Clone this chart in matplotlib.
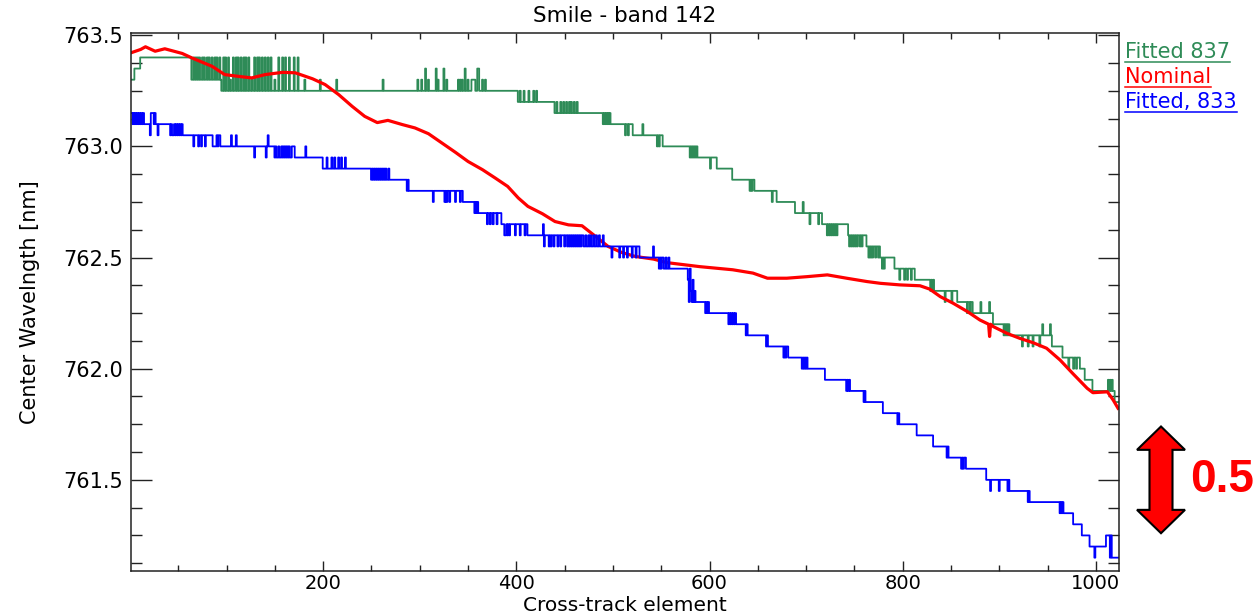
import numpy as np
import matplotlib
matplotlib.use('Agg')
import matplotlib.pyplot as plt
from matplotlib.ticker import MultipleLocator, FormatStrFormatter
from matplotlib.patches import Polygon
from matplotlib.lines import Line2D
from matplotlib.transforms import blended_transform_factory

# cross-track pixels
pixel = np.arange(1, 1025)

# Fitted 837: step levels (start pixel, wavelength)
green_step_x = [1, 5, 11, 64, 95, 402, 440, 490, 521, 552, 580, 608, 624, 647, 670,
                689, 717, 744, 763, 777, 792, 813, 833, 857, 873, 894, 911, 955,
                966, 984, 989, 997, 1020]
green_step_y = [763.30, 763.35, 763.40, 763.30, 763.25, 763.20, 763.15, 763.10, 763.05,
                763.00, 762.95, 762.90, 762.85, 762.80, 762.75, 762.70, 762.65, 762.60,
                762.55, 762.50, 762.45, 762.40, 762.35, 762.30, 762.25, 762.20, 762.15,
                762.10, 762.05, 762.00, 761.95, 761.90, 761.85]
# single-pixel jumps (value, pixels)
green_spikes = [
    (763.40, [66, 68, 70, 72, 75, 77, 80, 82, 85, 88, 90, 93, 97, 99, 102, 107, 110, 112,
              115, 118, 120, 123, 129, 132, 134, 137, 140, 143, 146, 154, 158, 161, 165,
              170, 174]),
    (763.35, [306, 317, 325, 347, 360, 361]),
    (763.30, [104, 126, 150, 181, 197, 214, 262, 298, 302, 309, 319, 328, 340, 342, 344,
              350, 354, 355, 356, 357, 365, 368]),
    (763.25, [404, 408, 413, 418, 421]),
    (763.20, [442, 446, 449, 452, 455, 457, 460, 463]),
    (763.15, [491, 493, 495, 497]),
    (763.10, [531]),
    (763.05, [513, 516]),
    (763.00, [546, 548, 581, 583, 585, 587]),
    (762.90, [601]),
    (762.80, [642, 644]),
    (762.75, [665, 697]),
    (762.65, [704, 713]),
    (762.60, [722, 724, 726, 728, 730, 732]),
    (762.55, [745, 747, 749, 751, 753, 756, 758]),
    (762.50, [765, 767, 769, 772, 775]),
    (762.45, [779, 781]),
    (762.40, [797, 802, 805, 809]),
    (762.35, [829, 831]),
    (762.30, [844, 851, 881, 890]),
    (762.25, [867, 870]),
    (762.20, [945, 953]),
    (762.15, [905, 907, 909]),
    (762.10, [924, 930, 935, 942]),
    (762.00, [972, 977, 980]),
    (761.95, [1013, 1015, 1017]),
]

# Fitted, 833
blue_step_x = [1, 55, 95, 172, 200, 260, 290, 345, 361, 385, 412, 470, 528, 553, 587,
               600, 628, 640, 661, 682, 702, 720, 746, 763, 780, 797, 815, 832, 848,
               866, 887, 911, 932, 967, 977, 986, 994, 1011, 1018]
blue_step_y = [763.10, 763.05, 763.00, 762.95, 762.90, 762.85, 762.80, 762.75, 762.70,
               762.65, 762.60, 762.55, 762.50, 762.45, 762.30, 762.25, 762.20, 762.15,
               762.10, 762.05, 762.00, 761.95, 761.90, 761.85, 761.80, 761.75, 761.70,
               761.65, 761.60, 761.55, 761.50, 761.45, 761.40, 761.35, 761.30, 761.25,
               761.20, 761.25, 761.15]
blue_spikes = [
    (763.15, [1, 2, 4, 6, 8, 10, 12, 14, 22, 23, 24, 26]),
    (763.05, [21, 29, 42, 44, 45, 47, 49, 51, 53, 105, 110, 143]),
    (763.00, [66, 71, 74, 78, 86, 87, 88, 89, 91, 94, 182]),
    (762.95, [129, 141, 150, 152, 153, 155, 156, 158, 160, 162, 164, 166, 167, 171,
              204, 209, 212, 216, 219, 223]),
    (762.90, [261, 263, 265, 268]),
    (762.85, [250, 252, 254, 256, 258]),
    (762.80, [287, 289]),
    (762.75, [314, 326, 328, 331, 337, 342]),
    (762.70, [357, 359]),
    (762.65, [370, 373, 376, 380, 428]),
    (762.60, [388, 389, 391, 393, 399, 404, 409, 472, 475, 477, 480, 483, 486, 490]),
    (762.55, [429, 434, 436, 439, 443, 446, 450, 453, 455, 457, 459, 461, 463, 465, 467,
              542]),
    (762.50, [499, 507, 511, 515, 520, 524, 555, 558]),
    (762.45, [548, 550]),
    (762.40, [578, 583]),
    (762.35, [581, 585]),
    (762.30, [579, 582, 584, 586]),
    (762.25, [596, 598]),
    (762.20, [620, 622, 624, 626]),
    (762.15, [638]),
    (762.10, [659]),
    (762.05, [677, 679]),
    (762.00, [696, 698, 700]),
    (761.90, [742, 744]),
    (761.85, [760, 762]),
    (761.75, [795]),
    (761.60, [846]),
    (761.55, [861, 863]),
    (761.45, [891, 900, 909]),
    (761.40, [930]),
    (761.35, [963, 965]),
    (761.15, [999, 1015, 1017]),
]

# Nominal: points
red_x = [1, 11, 16, 26, 36, 54, 64, 85, 98, 112, 126, 140, 158, 171, 189, 202, 216,
         230, 243, 256, 267, 282, 295, 309, 323, 337, 350, 365, 378, 391, 402, 412,
         427, 440, 454, 468, 482, 495, 509, 523, 542, 556, 590, 624, 645, 660, 680,
         701, 722, 742, 763, 777, 797, 818, 828, 839, 852, 867, 880, 889, 890, 891,
         894, 908, 921, 935, 949, 963, 976, 991, 997, 1012, 1018, 1023]
red_y = [763.421, 763.436, 763.448, 763.428, 763.439, 763.418, 763.398, 763.360, 763.323,
         763.315, 763.308, 763.323, 763.333, 763.331, 763.304, 763.278, 763.233, 763.180,
         763.135, 763.107, 763.117, 763.098, 763.083, 763.057, 763.015, 762.973, 762.932,
         762.895, 762.858, 762.820, 762.768, 762.730, 762.697, 762.662, 762.647, 762.643,
         762.595, 762.550, 762.523, 762.505, 762.493, 762.477, 762.459, 762.445, 762.430,
         762.407, 762.407, 762.414, 762.422, 762.407, 762.392, 762.384, 762.377, 762.373,
         762.358, 762.324, 762.295, 762.257, 762.219, 762.200, 762.145, 762.200, 762.189,
         762.159, 762.137, 762.117, 762.092, 762.039, 761.979, 761.912, 761.892, 761.896,
         761.859, 761.822]

legend_labels = ['Fitted 837', 'Nominal', 'Fitted, 833']
green = '#2E8B57'
legend_colors = [green, 'red', 'blue']
scale_bar = 0.5


def build(step_x, step_y, spikes):
    idx = np.searchsorted(step_x, pixel, side='right') - 1
    y = np.array(step_y, dtype=float)[idx]
    for value, cols in spikes:
        y[np.array(cols) - 1] = value
    return y


fitted_837 = build(green_step_x, green_step_y, green_spikes)
fitted_833 = build(blue_step_x, blue_step_y, blue_spikes)

plt.rcParams['font.family'] = 'DejaVu Sans'
plt.rcParams['font.size'] = 15

W, H = 1254, 614
fig = plt.figure(figsize=(W / 100, H / 100), dpi=100)
ax = fig.add_axes([131 / W, 1 - 571 / H, (1119 - 131) / W, (571 - 33) / H])

ax.plot(pixel, fitted_837, color=green, lw=1.3, drawstyle='steps-mid')
ax.plot(red_x, red_y, color='red', lw=2.3)
ax.plot(pixel, fitted_833, color='blue', lw=1.3, drawstyle='steps-mid')

ax.set_xlim(1, 1024)
ax.set_ylim(761.09, 763.51)
ax.xaxis.set_major_locator(MultipleLocator(200))
ax.xaxis.set_minor_locator(MultipleLocator(50))
ax.yaxis.set_major_locator(MultipleLocator(0.5))
ax.yaxis.set_minor_locator(MultipleLocator(0.125))
ax.yaxis.set_major_formatter(FormatStrFormatter('%.1f'))
ax.tick_params(which='both', direction='in', top=True, right=True, width=1.0,
               color='#222222')
ax.tick_params(axis='x', which='major', length=7.5, pad=2.5, labelsize=14)
ax.tick_params(axis='x', which='minor', length=4.5)
ax.tick_params(axis='y', which='major', length=15, pad=6, labelsize=15)
ax.tick_params(axis='y', which='minor', length=8)
for s in ax.spines.values():
    s.set_linewidth(1.1)
    s.set_color('#222222')

fig.text(625 / W, 1 - 22 / H, 'Smile - band 142', ha='center', va='baseline', fontsize=15.5)
fig.text(625 / W, 1 - 611 / H, 'Cross-track element', ha='center', va='baseline',
         fontsize=14.5)
fig.text(30 / W, 1 - 302 / H, 'Center Wavelngth [nm]', ha='center', va='center',
         rotation=90, fontsize=15)

# legend as underlined labels beside the plot
fig.canvas.draw()
renderer = fig.canvas.get_renderer()
for i, (lab, col) in enumerate(zip(legend_labels, legend_colors)):
    base = 58 + 25 * i
    t = fig.text(1125 / W, 1 - base / H, lab, color=col, ha='left', va='baseline', fontsize=15)
    bb = t.get_window_extent(renderer)
    uy = 1 - (base + 4) / H
    fig.add_artist(Line2D([bb.x0 / W, bb.x1 / W], [uy, uy], color=col, lw=1.1,
                          transform=fig.transFigure))

# 0.5 nm scale arrow
tr = blended_transform_factory(fig.transFigure, ax.transData)
c, sw, hw = 1161 / W, 11.5 / W, 24 / W
top, bot = 761.5 + 0.96 * scale_bar / 2, 761.5 - 0.96 * scale_bar / 2
hl = 0.105
verts = [(c, top), (c + hw, top - hl), (c + sw, top - hl), (c + sw, bot + hl),
         (c + hw, bot + hl), (c, bot), (c - hw, bot + hl), (c - sw, bot + hl),
         (c - sw, top - hl), (c - hw, top - hl)]
ax.add_patch(Polygon(verts, closed=True, facecolor='red', edgecolor='black', lw=1.5,
                     transform=tr, clip_on=False))
fig.text(1190 / W, 1 - 480 / H, '0.5', color='red', fontweight='bold',
         family='Liberation Sans', fontsize=33, ha='left', va='center')

fig.savefig('out.png', dpi=100)
